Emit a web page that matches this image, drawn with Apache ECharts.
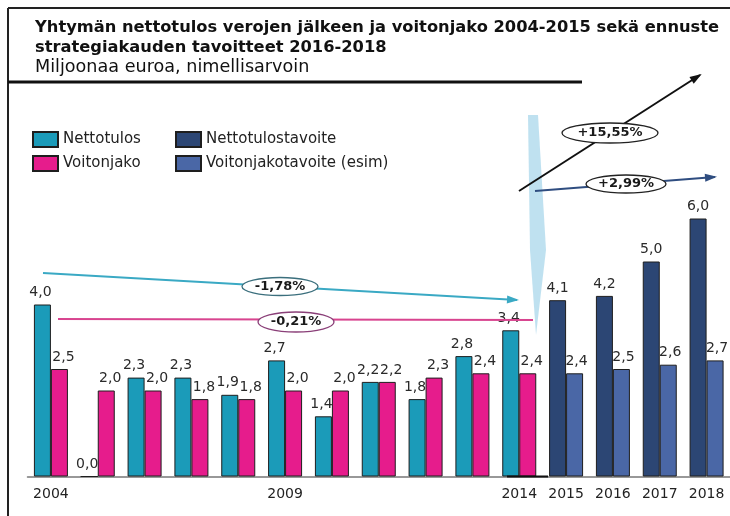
<!DOCTYPE html>
<html>
<head>
<meta charset="utf-8">
<script src="https://cdn.jsdelivr.net/npm/echarts@6/dist/echarts.min.js"></script>
<style>
html, body { margin: 0; padding: 0; background: #fff; }
#main { width: 730px; height: 516px; }
</style>
</head>
<body>
<div id="main"></div>
<script>
var years = ['2004', '2005', '2006', '2007', '2008', '2009', '2010', '2011', '2012', '2013', '2014', '2015', '2016', '2017', '2018'];
var shownYears = ['2004', '2009', '2014', '2015', '2016', '2017', '2018'];
var nettotulos = [4.0, 0.0, 2.3, 2.3, 1.9, 2.7, 1.4, 2.2, 1.8, 2.8, 3.4, '-', '-', '-', '-'];
var voitonjako = [2.5, 2.0, 2.0, 1.8, 1.8, 2.0, 2.0, 2.2, 2.3, 2.4, 2.4, '-', '-', '-', '-'];
var nettotulostavoite = ['-', '-', '-', '-', '-', '-', '-', '-', '-', '-', '-', 4.1, 4.2, 5.0, 6.0];
var voitonjakotavoite = ['-', '-', '-', '-', '-', '-', '-', '-', '-', '-', '-', 2.4, 2.5, 2.6, 2.7];
var trendLabels = ['-1,78%', '-0,21%', '+15,55%', '+2,99%'];

var FONT = 'DejaVu Sans';

function fmt(p) {
    return p.value.toFixed(1).replace('.', ',');
}

function barSeries(name, data, color, stack, dx) {
    return {
        name: name,
        type: 'bar',
        stack: stack,
        data: data,
        barWidth: 17,
        barGap: '0%',
        itemStyle: { color: color, borderColor: '#1e1e1e', borderWidth: 1 },
        label: {
            show: true,
            position: 'top',
            distance: 5,
            offset: [dx, 0],
            formatter: fmt,
            color: '#2a2a2a',
            fontFamily: FONT,
            fontSize: 14
        }
    };
}

// arrow line + optional head
function arrow(x1, y1, x2, y2, color, head) {
    var els = [{
        type: 'line',
        shape: { x1: x1, y1: y1, x2: x2, y2: y2 },
        style: { stroke: color, lineWidth: 2 },
        z: 10
    }];
    if (head) {
        var a = Math.atan2(y2 - y1, x2 - x1);
        var L = 10, W = 4;
        var c = Math.cos(a), s = Math.sin(a);
        els.push({
            type: 'polygon',
            shape: {
                points: [
                    [x2 + 2 * c, y2 + 2 * s],
                    [x2 - L * c + W * s, y2 - L * s - W * c],
                    [x2 - L * c - W * s, y2 - L * s + W * c]
                ]
            },
            style: { fill: color },
            z: 10
        });
    }
    return els;
}

function bubble(cx, cy, rx, ry, text, stroke) {
    return [{
        type: 'ellipse',
        shape: { cx: cx, cy: cy, rx: rx, ry: ry },
        style: { fill: '#fff', stroke: stroke, lineWidth: 1.3 },
        z: 11
    }, {
        type: 'text',
        x: cx,
        y: cy,
        style: {
            text: text,
            align: 'center',
            verticalAlign: 'middle',
            font: 'bold 13px "DejaVu Sans"',
            fill: '#1a1a1a'
        },
        z: 12
    }];
}

var graphics = [];
// frame and rule
graphics.push({ type: 'line', shape: { x1: 8, y1: 8, x2: 730, y2: 8 }, style: { stroke: '#222', lineWidth: 2 } });
graphics.push({ type: 'line', shape: { x1: 8, y1: 8, x2: 8, y2: 516 }, style: { stroke: '#222', lineWidth: 2 } });
graphics.push({ type: 'line', shape: { x1: 8, y1: 82, x2: 582, y2: 82 }, style: { stroke: '#111', lineWidth: 3 } });
// light blue divider
graphics.push({
    type: 'polygon',
    shape: { points: [[528, 115], [538, 115], [546, 250], [536, 335], [530, 250]] },
    style: { fill: 'rgba(170,215,235,0.75)' },
    z: 0
});
graphics.push({ type: 'line', shape: { x1: 507, y1: 476.5, x2: 548, y2: 476.5 }, style: { stroke: '#111', lineWidth: 2 }, z: 10 });

graphics = graphics
    .concat(arrow(43, 273, 517, 300, '#3aa9c4', true))
    .concat(bubble(280, 286.5, 38, 9, trendLabels[0], '#3b6f7d'))
    .concat(arrow(58, 319, 533, 320, '#d8448f', false))
    .concat(bubble(296, 322, 38, 10, trendLabels[1], '#8a3f78'))
    .concat(arrow(519, 191, 700, 75, '#111', true))
    .concat(bubble(610, 133, 48, 10, trendLabels[2], '#222'))
    .concat(arrow(535, 191, 715, 177, '#2f4d80', true))
    .concat(bubble(626, 184, 40, 9, trendLabels[3], '#222'));

var chart = echarts.init(document.getElementById('main'));
chart.setOption({
    backgroundColor: '#fff',
    animation: false,
    title: {
        left: 35,
        top: 18,
        text: 'Yhtymän nettotulos verojen jälkeen ja voitonjako 2004-2015 sekä ennuste\nstrategiakauden tavoitteet 2016-2018',
        subtext: 'Miljoonaa euroa, nimellisarvoin',
        itemGap: 0,
        padding: 0,
        textStyle: { fontFamily: FONT, fontSize: 16.3, fontWeight: 'bold', color: '#111', lineHeight: 20 },
        subtextStyle: { fontFamily: FONT, fontSize: 17.6, color: '#111', lineHeight: 19 }
    },
    legend: [{
        left: 32,
        top: 131,
        orient: 'vertical',
        icon: 'rect',
        itemWidth: 25,
        itemHeight: 15,
        itemGap: 7,
        padding: 0,
        data: ['Nettotulos', 'Voitonjako'],
        textStyle: { fontFamily: FONT, fontSize: 15, color: '#222' }
    }, {
        left: 175,
        top: 131,
        orient: 'vertical',
        icon: 'rect',
        itemWidth: 25,
        itemHeight: 15,
        itemGap: 7,
        padding: 0,
        data: ['Nettotulostavoite', 'Voitonjakotavoite (esim)'],
        textStyle: { fontFamily: FONT, fontSize: 15, color: '#222' }
    }],
    grid: { left: 27.5, top: 132.5, width: 705, height: 344 },
    xAxis: {
        type: 'category',
        data: years,
        axisLine: { lineStyle: { color: '#777', width: 1.5 } },
        axisTick: { show: false },
        axisLabel: {
            interval: 0,
            margin: 11,
            color: '#222',
            fontFamily: FONT,
            fontSize: 14,
            formatter: function (v) { return shownYears.indexOf(v) >= 0 ? v : ''; }
        }
    },
    yAxis: { type: 'value', min: 0, max: 8, show: false, splitLine: { show: false } },
    series: [
        barSeries('Nettotulos', nettotulos, '#1b9bb9', 'tulos', -2),
        barSeries('Voitonjako', voitonjako, '#e61c8c', 'jako', 4),
        barSeries('Nettotulostavoite', nettotulostavoite, '#2c4674', 'tulos', 0),
        barSeries('Voitonjakotavoite (esim)', voitonjakotavoite, '#4a67a6', 'jako', 2)
    ],
    graphic: graphics
});
</script>
</body>
</html>
